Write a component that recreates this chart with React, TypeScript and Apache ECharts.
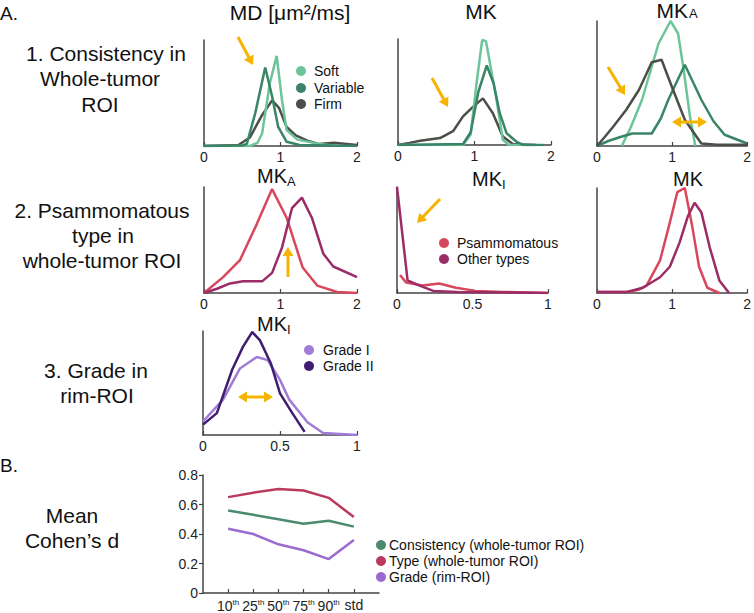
import React, { useEffect, useRef } from "react";
import * as echarts from "echarts";

const FONT = '"Liberation Sans", Arial, Helvetica, sans-serif';

// ---------- Data ----------
// Row 1: Consistency (x: parameter value, y: normalized density)
const mdSoft = [[0, 0], [0.6, 0], [0.7, 0.03], [0.76, 0.12], [0.86, 0.59], [0.95, 0.85], [1.02, 0.43], [1.08, 0.15], [1.22, 0.06], [1.5, 0.02], [1.75, 0]];
const mdVariable = [[0, 0], [0.5, 0.005], [0.56, 0.02], [0.67, 0.31], [0.8, 0.74], [0.89, 0.47], [0.97, 0.18], [1.08, 0.04], [1.25, 0.01], [2, 0]];
const mdFirm = [[0, 0], [0.45, 0.01], [0.6, 0.08], [0.75, 0.28], [0.89, 0.43], [0.98, 0.36], [1.08, 0.18], [1.2, 0.1], [1.35, 0.05], [1.5, 0.02], [1.7, 0.03], [2, 0.01]];

const mkSoft = [[0, 0], [0.85, 0], [0.95, 0.1], [1.03, 0.6], [1.1, 0.99], [1.15, 0.98], [1.22, 0.7], [1.29, 0.42], [1.37, 0.05], [1.45, 0], [1.8, 0]];
const mkVariable = [[0, 0], [0.85, 0.01], [0.95, 0.12], [1.05, 0.5], [1.16, 0.75], [1.25, 0.58], [1.33, 0.3], [1.42, 0.11], [1.55, 0.03], [1.64, 0], [1.9, 0]];
const mkFirm = [[0, 0], [0.15, 0.02], [0.29, 0.04], [0.55, 0.065], [0.72, 0.13], [0.85, 0.27], [0.98, 0.36], [1.11, 0.44], [1.24, 0.3], [1.37, 0.08], [1.5, 0.01], [1.8, 0]];

const mkaSoft = [[0.33, 0], [0.45, 0.15], [0.6, 0.37], [0.82, 0.82], [0.98, 1.0], [1.08, 0.9], [1.15, 0.63], [1.24, 0.23], [1.31, 0]];
const mkaVariable = [[0, 0], [0.15, 0.04], [0.3, 0.07], [0.47, 0.1], [0.73, 0.1], [0.85, 0.22], [0.95, 0.37], [1.17, 0.65], [1.39, 0.37], [1.55, 0.2], [1.7, 0.09], [2, 0.02]];
const mkaFirm = [[0, 0], [0.1, 0.07], [0.21, 0.15], [0.39, 0.29], [0.56, 0.45], [0.73, 0.67], [0.86, 0.69], [1.0, 0.47], [1.17, 0.21], [1.39, 0.02], [1.6, 0.01], [2, 0.01]];

// Row 2: Psammomatous vs other types
const psMka = [[0, 0], [0.25, 0.15], [0.47, 0.31], [0.69, 0.65], [0.89, 0.98], [1.08, 0.71], [1.29, 0.24], [1.48, 0.07], [1.74, 0.01], [2, 0]];
const otMka = [[0, 0], [0.17, 0.04], [0.34, 0.09], [0.51, 0.11], [0.76, 0.11], [0.89, 0.19], [1.02, 0.43], [1.15, 0.8], [1.28, 0.9], [1.41, 0.71], [1.56, 0.37], [1.69, 0.25], [2, 0.15]];

const psMki = [[0.02, 0.17], [0.06, 0.1], [0.17, 0.07], [0.28, 0.09], [0.39, 0.05], [0.52, 0.02], [0.7, 0.01], [1, 0]];
const otMki = [[0, 1.0], [0.07, 0.12], [0.15, 0.07], [0.24, 0.02], [0.4, 0.01], [1, 0]];

const psMk = [[0, 0.01], [0.4, 0.01], [0.55, 0.03], [0.66, 0.07], [0.84, 0.31], [0.97, 0.67], [1.07, 0.96], [1.17, 1.0], [1.27, 0.63], [1.36, 0.25], [1.47, 0.05], [1.63, 0]];
const otMk = [[0, 0.01], [0.4, 0.01], [0.61, 0.05], [0.84, 0.15], [0.97, 0.25], [1.1, 0.48], [1.21, 0.73], [1.3, 0.86], [1.39, 0.77], [1.5, 0.44], [1.63, 0.12], [1.76, 0]];

// Row 3: Grade
const gradeII = [[0, 0.1], [0.09, 0.21], [0.19, 0.63], [0.26, 0.85], [0.32, 0.99], [0.37, 0.91], [0.44, 0.69], [0.5, 0.4], [0.58, 0.21], [0.66, 0.03]];
const gradeI = [[0, 0.13], [0.13, 0.34], [0.24, 0.64], [0.35, 0.75], [0.42, 0.72], [0.5, 0.53], [0.56, 0.34], [0.68, 0.12], [0.78, 0.02], [1, 0]];

// Panel B: Mean Cohen's d
const bCategories = ["10th", "25th", "50th", "75th", "90th", "std"];
const bConsistency = [0.56, 0.53, 0.5, 0.47, 0.49, 0.45];
const bType = [0.65, 0.68, 0.705, 0.695, 0.645, 0.515];
const bGrade = [0.435, 0.4, 0.33, 0.29, 0.23, 0.36];
const bYTicks = [0, 0.2, 0.4, 0.6, 0.8];

// ---------- Colors ----------
const C_SOFT = "#6cc49a";
const C_VAR = "#3a8468";
const C_FIRM = "#4b4f48";
const C_PS = "#d9475c";
const C_OT = "#9b2c66";
const C_G1 = "#a07cd6";
const C_G2 = "#3f1d70";
const C_BC = "#4a8a6e";
const C_BT = "#b93a5c";
const C_BG = "#9b6ad0";
const C_ARROW = "#f6b400";
const C_AXIS = "#444";

export default function App() {
  const ref = useRef<HTMLDivElement>(null);

  useEffect(() => {
    if (!ref.current) return;
    const chart = echarts.init(ref.current, null, { renderer: "svg" });

    const grids = [
      { left: 204, top: 40, width: 153, height: 106 }, // MD
      { left: 398, top: 39, width: 153, height: 106 }, // MK
      { left: 597, top: 21, width: 153, height: 125 }, // MKA
      { left: 204, top: 187, width: 153, height: 106 }, // row2 MKA
      { left: 397, top: 187, width: 151, height: 106 }, // row2 MKI
      { left: 597, top: 188, width: 151, height: 105 }, // row2 MK
      { left: 203, top: 331, width: 154, height: 104 }, // row3 MKI
      { left: 203, top: 475, width: 176, height: 119 }, // B
    ];
    const xMax = [2, 2, 2, 2, 1, 2, 1];

    const xAxes: any[] = xMax.map((mx, i) => ({
      type: "value",
      gridIndex: i,
      min: 0,
      max: mx,
      interval: mx / 2,
      axisLine: { lineStyle: { color: C_AXIS, width: 1.5 } },
      axisTick: { show: true, inside: true, length: 4, lineStyle: { color: C_AXIS, width: 1.2 } },
      splitLine: { show: false },
      axisLabel: { fontSize: 14, color: "#222", fontFamily: FONT, margin: 4 },
    }));
    xAxes.push({
      type: "category",
      gridIndex: 7,
      boundaryGap: false,
      data: ["", ...bCategories, ""],
      axisLine: { lineStyle: { color: C_AXIS, width: 1.5 } },
      axisTick: {
        show: true,
        inside: true,
        length: 4,
        interval: (idx: number) => idx > 0 && idx < bCategories.length + 1,
        lineStyle: { color: C_AXIS, width: 1.2 },
      },
      axisLabel: {
        interval: 0,
        margin: 5,
        formatter: (v: string) => {
          if (!v) return "";
          const m = v.match(/^(\d+)(th)$/);
          if (m) return `{v|${m[1]}}{s|${m[2]}}`;
          return `{v|${v}}`;
        },
        rich: {
          v: { fontSize: 14, color: "#222", fontFamily: FONT, verticalAlign: "bottom" },
          s: { fontSize: 8, color: "#222", fontFamily: FONT, verticalAlign: "bottom", padding: [0, 0, 7, 0] },
        },
      },
      splitLine: { show: false },
    });

    const yAxes: any[] = xMax.map((_, i) => ({
      type: "value",
      gridIndex: i,
      min: 0,
      max: 1,
      axisLine: { show: true, lineStyle: { color: C_AXIS, width: 1.5 } },
      axisTick: { show: false },
      axisLabel: { show: false },
      splitLine: { show: false },
    }));
    yAxes.push({
      type: "value",
      gridIndex: 7,
      min: bYTicks[0],
      max: bYTicks[bYTicks.length - 1],
      interval: 0.2,
      axisLine: { show: true, lineStyle: { color: C_AXIS, width: 1.5 } },
      axisTick: { show: true, length: 4, lineStyle: { color: C_AXIS, width: 1.2 } },
      axisLabel: {
        fontSize: 14,
        color: "#222",
        fontFamily: FONT,
        margin: 5,
        formatter: (v: number) => (v === 0 ? "0" : v.toFixed(1)),
      },
      splitLine: { show: false },
    });

    const line = (data: number[][], idx: number, color: string, name: string) => ({
      type: "line",
      name,
      xAxisIndex: idx,
      yAxisIndex: idx,
      data,
      showSymbol: false,
      symbol: "none",
      lineStyle: { color, width: 2.5 },
      itemStyle: { color },
      silent: true,
    });

    const pad = (arr: number[]) => [null, ...arr, null];
    const bLine = (data: number[], color: string, name: string) => ({
      type: "line",
      name,
      xAxisIndex: 7,
      yAxisIndex: 7,
      data: pad(data),
      showSymbol: false,
      symbol: "none",
      lineStyle: { color, width: 2.5 },
      itemStyle: { color },
      silent: true,
    });

    const series = [
      line(mdFirm, 0, C_FIRM, "Firm"),
      line(mdSoft, 0, C_SOFT, "Soft"),
      line(mdVariable, 0, C_VAR, "Variable"),
      line(mkFirm, 1, C_FIRM, "Firm"),
      line(mkSoft, 1, C_SOFT, "Soft"),
      line(mkVariable, 1, C_VAR, "Variable"),
      line(mkaSoft, 2, C_SOFT, "Soft"),
      line(mkaVariable, 2, C_VAR, "Variable"),
      line(mkaFirm, 2, C_FIRM, "Firm"),
      line(psMka, 3, C_PS, "Psammomatous"),
      line(otMka, 3, C_OT, "Other types"),
      line(psMki, 4, C_PS, "Psammomatous"),
      line(otMki, 4, C_OT, "Other types"),
      line(psMk, 5, C_PS, "Psammomatous"),
      line(otMk, 5, C_OT, "Other types"),
      line(gradeI, 6, C_G1, "Grade I"),
      line(gradeII, 6, C_G2, "Grade II"),
      bLine(bConsistency, C_BC, "Consistency (whole-tumor ROI)"),
      bLine(bType, C_BT, "Type (whole-tumor ROI)"),
      bLine(bGrade, C_BG, "Grade (rim-ROI)"),
    ];

    const txt = (text: string, x: number, y: number, size: number, align = "center") => ({
      type: "text",
      x,
      y,
      silent: true,
      style: {
        text,
        fontSize: size,
        fontFamily: FONT,
        fill: "#111",
        align,
        verticalAlign: "middle",
        textAlign: align,
        textVerticalAlign: "middle",
      },
    });

    const dot = (cx: number, cy: number, color: string) => ({
      type: "circle",
      silent: true,
      shape: { cx, cy, r: 5 },
      style: { fill: color },
    });

    const head = (tx: number, ty: number, dx: number, dy: number) => {
      const L = 9, W = 5.5;
      const bx = tx - dx * L, by = ty - dy * L;
      const px = -dy, py = dx;
      return {
        type: "polygon",
        silent: true,
        z: 100,
        shape: { points: [[tx, ty], [bx + px * W, by + py * W], [bx - px * W, by - py * W]] },
        style: { fill: C_ARROW },
      };
    };
    const arrow = (x1: number, y1: number, x2: number, y2: number, dbl = false) => {
      const len = Math.hypot(x2 - x1, y2 - y1);
      const dx = (x2 - x1) / len, dy = (y2 - y1) / len;
      const sx = dbl ? x1 + dx * 6 : x1;
      const sy = dbl ? y1 + dy * 6 : y1;
      const els: any[] = [
        {
          type: "line",
          silent: true,
          z: 100,
          shape: { x1: sx, y1: sy, x2: x2 - dx * 6, y2: y2 - dy * 6 },
          style: { stroke: C_ARROW, lineWidth: 3 },
        },
        head(x2, y2, dx, dy),
      ];
      if (dbl) els.push(head(x1, y1, -dx, -dy));
      return els;
    };

    const graphic: any[] = [
      // Section labels
      txt("A.", 0, 13, 19, "left"),
      txt("B.", 0, 465, 19, "left"),
      txt("1. Consistency in", 106, 53, 21),
      txt("Whole-tumor", 100, 78, 21),
      txt("ROI", 100, 104, 21),
      txt("2. Psammomatous", 102, 210, 21),
      txt("type in", 103, 235, 21),
      txt("whole-tumor ROI", 102, 260, 21),
      txt("3. Grade in", 96, 370, 21),
      txt("rim-ROI", 97, 395, 21),
      txt("Mean", 72, 515, 21),
      txt("Cohen\u2019s d", 72, 540, 21),
      // Panel titles
      txt("MD [\u03bcm\u00b2/ms]", 290, 12, 21),
      txt("MK", 481, 11, 21),
      txt("MK", 688, 10, 21, "right"),
      txt("A", 689, 13, 13, "left"),
      txt("MK", 287, 176, 20, "right"),
      txt("A", 287, 181, 13, "left"),
      txt("MK", 502, 179, 20, "right"),
      txt("I", 502, 184, 13, "left"),
      txt("MK", 688, 179, 20),
      txt("MK", 287, 324, 20, "right"),
      txt("I", 287, 329, 13, "left"),
      // Legends
      dot(301, 71, C_SOFT), txt("Soft", 314, 71, 14, "left"),
      dot(301, 88, C_VAR), txt("Variable", 314, 88, 14, "left"),
      dot(301, 104, C_FIRM), txt("Firm", 314, 104, 14, "left"),
      dot(444, 243, C_PS), txt("Psammomatous", 457, 243, 14, "left"),
      dot(444, 259, C_OT), txt("Other types", 457, 259, 14, "left"),
      dot(309, 350, C_G1), txt("Grade I", 323, 350, 14, "left"),
      dot(309, 366, C_G2), txt("Grade II", 323, 366, 14, "left"),
      dot(381, 545, C_BC), txt("Consistency (whole-tumor ROI)", 389, 545, 14, "left"),
      dot(381, 561, C_BT), txt("Type (whole-tumor ROI)", 389, 561, 14, "left"),
      dot(381, 577, C_BG), txt("Grade (rim-ROI)", 389, 577, 14, "left"),
      // Arrows
      ...arrow(238, 37, 253, 65),
      ...arrow(432, 78, 448, 107),
      ...arrow(608, 67, 625, 95),
      ...arrow(672, 122, 707, 122, true),
      ...arrow(288, 277, 288, 247),
      ...arrow(440, 199, 417, 223),
      ...arrow(238, 397, 273, 397, true),
    ];

    chart.setOption({
      animation: false,
      backgroundColor: "#ffffff",
      textStyle: { fontFamily: FONT },
      grid: grids,
      xAxis: xAxes,
      yAxis: yAxes,
      series,
      graphic,
    });

    return () => chart.dispose();
  }, []);

  return (
    <div
      ref={ref}
      style={{ position: "absolute", left: 0, top: 0, width: 754, height: 613, background: "#fff" }}
    />
  );
}
